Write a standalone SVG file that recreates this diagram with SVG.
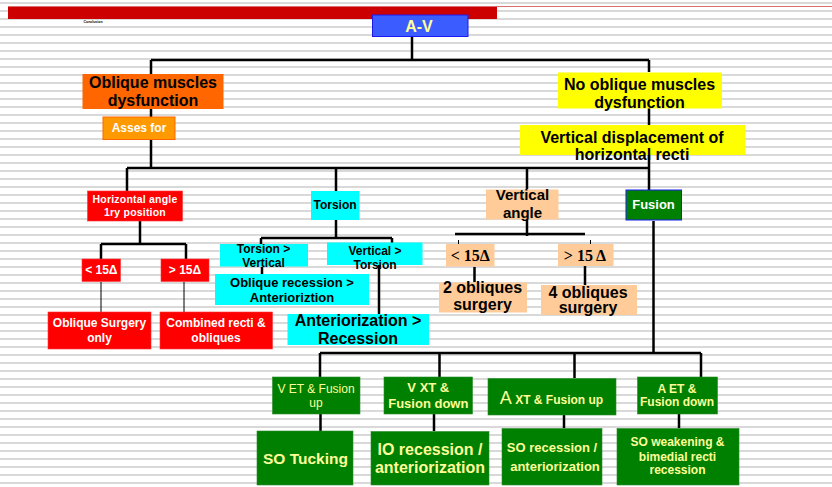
<svg xmlns="http://www.w3.org/2000/svg" width="832" height="487" viewBox="0 0 832 487">
<defs>
<pattern id="stripes" x="0" y="0" width="8" height="8" patternUnits="userSpaceOnUse">
<rect x="0" y="2" width="8" height="2" fill="#d9d9d9"/>
</pattern>
</defs>
<style>
text{font-family:"Liberation Sans",Arial,sans-serif;text-anchor:middle}
.b{font-weight:bold}
.blk{fill:#000}
.wht{fill:#fff}
.yel{fill:#ffff99}
.ser{font-family:"Liberation Serif","Times New Roman",serif;font-weight:bold}
.orange{fill:#ff6600}
.yellow{fill:#ffff00}
.red{fill:#ff0000;stroke:#ff3333;stroke-width:0.6}
.cyan{fill:#00ffff}
.peach{fill:#ffcc99}
.green{fill:#008000;stroke:#2a8a2a;stroke-width:0.6}
.c{stroke:#000;stroke-width:2.5;fill:none}
.t{stroke:#000;stroke-width:1;fill:none}
</style>
<rect width="832" height="487" fill="#fff"/>
<rect width="832" height="487" fill="url(#stripes)"/>
<line x1="8" y1="6.5" x2="832" y2="6.5" stroke="#e07070" stroke-width="1"/>
<rect x="8" y="7" width="489" height="12" fill="#cc0000"/>
<text x="93" y="23" style="font-size:3.5px" class="b blk">Conclusion</text>

<g id="connectors">
<path class="c" d="M412 37 V60 M151 60 H649 M151 60 V74 M649 60 V72"/>
<path class="c" d="M151 109 V117 M151 139 V168 M127 168 H649 M649 108 V125 M649 155 V190"/>
<path class="c" d="M127 168 V191 M336 168 V191 M527 168 V189"/>
<path class="c" d="M140 221 V244 M101 244 H186 M101 244 V259 M186 244 V259"/>
<path class="t" d="M101 282 V312 M184 282 V312"/>
<path class="c" d="M336 220 V238 M261 238 H392 M261 238 V244 M392 238 V243"/>
<path class="c" d="M262 267 V274 M379 265 V314"/>
<path class="c" d="M527 219 V236 M455 234 H585"/>
<path class="t" d="M458.5 240 V247 M590.5 240 V247"/>
<path class="c" d="M474.5 267 V282 M585 266 V285"/>
<path class="c" d="M653.5 221 V353 M320 353 H701 M320 353 V377 M439.5 353 V377 M574.5 353 V378 M701 353 V377"/>
<path class="c" d="M320.5 414 V431 M434 414 V431 M564 415 V428 M679 414 V428"/>
</g>

<g id="node-av">
<rect x="372.5" y="15" width="95.5" height="21.5" fill="#3b5cff" stroke="#1a1aee" stroke-width="1"/>
<text x="419" y="31.5" style="font-size:16px" class="b yel">A-V</text>
</g>

<g id="node-oblique">
<rect x="82.5" y="74" width="141" height="35" class="orange"/>
<text x="153" y="88" style="font-size:16px" class="b blk">Oblique muscles</text>
<text x="153" y="106" style="font-size:16px" class="b blk">dysfunction</text>
</g>

<g id="node-asses">
<rect x="103" y="117" width="72" height="22.5" fill="#ff9900" stroke="#ff6600" stroke-width="1"/>
<text x="139" y="131.5" style="font-size:12px" class="b wht">Asses for</text>
</g>

<g id="node-noblique">
<rect x="558" y="72.5" width="164" height="36" class="yellow"/>
<text x="639.5" y="90" style="font-size:16px" class="b blk">No oblique muscles</text>
<text x="639.5" y="108" style="font-size:16px" class="b blk">dysfunction</text>
</g>

<g id="node-vdisp">
<rect x="520" y="125" width="225" height="30" class="yellow"/>
<text x="632" y="142.5" style="font-size:16px" class="b blk">Vertical displacement of</text>
<text x="632" y="160" style="font-size:16px" class="b blk">horizontal recti</text>
</g>

<g id="node-horiz">
<rect x="87.5" y="191" width="95" height="30" class="red"/>
<text x="135" y="202.5" style="font-size:10.5px;letter-spacing:0.2px" class="b wht">Horizontal angle</text>
<text x="135" y="215.5" style="font-size:10.5px;letter-spacing:0.2px" class="b wht">1ry position</text>
</g>

<g id="node-h-lt15">
<rect x="82" y="259" width="38.5" height="22.5" class="red"/>
<text x="101.3" y="274" style="font-size:12px" class="b wht">&lt; 15Δ</text>
</g>
<g id="node-h-gt15">
<rect x="161" y="259" width="48" height="22.5" class="red"/>
<text x="185" y="274" style="font-size:12px" class="b wht">&gt; 15Δ</text>
</g>

<g id="node-obsurg">
<rect x="48" y="312" width="103" height="37" class="red"/>
<text x="99.5" y="327.3" style="font-size:12px" class="b wht">Oblique Surgery</text>
<text x="99.5" y="341.7" style="font-size:12px" class="b wht">only</text>
</g>
<g id="node-combined">
<rect x="160" y="312" width="112.5" height="37" class="red"/>
<text x="216" y="327.3" style="font-size:12px" class="b wht">Combined recti &amp;</text>
<text x="216" y="341.7" style="font-size:12px" class="b wht">obliques</text>
</g>

<g id="node-torsion">
<rect x="311" y="191" width="48.5" height="29" class="cyan"/>
<text x="335" y="209.3" style="font-size:12px" class="b blk">Torsion</text>
</g>
<g id="node-tgv">
<rect x="220" y="244" width="88" height="22.5" class="cyan"/>
<text x="263.5" y="253.3" style="font-size:12px" class="b blk">Torsion &gt;</text>
<text x="263.5" y="266.7" style="font-size:12px" class="b blk">Vertical</text>
</g>
<g id="node-vgt">
<rect x="327" y="242.5" width="95.5" height="22.5" class="cyan"/>
<text x="375" y="255" style="font-size:12px" class="b blk">Vertical &gt;</text>
<text x="375" y="269" style="font-size:12px" class="b blk">Torsion</text>
</g>
<g id="node-oblrec">
<rect x="215" y="274" width="154" height="31" class="cyan"/>
<text x="292" y="286.7" style="font-size:13px" class="b blk">Oblique recession &gt;</text>
<text x="292" y="302.3" style="font-size:13px" class="b blk">Anterioriztion</text>
</g>
<g id="node-antrec">
<rect x="287.5" y="314" width="141.5" height="31" class="cyan"/>
<text x="358" y="325.7" style="font-size:16px" class="b blk">Anteriorization &gt;</text>
<text x="358" y="344" style="font-size:16px" class="b blk">Recession</text>
</g>

<g id="node-vangle">
<rect x="486" y="189.5" width="72.5" height="30" class="peach"/>
<text x="522.5" y="200" style="font-size:15px" class="b blk">Vertical</text>
<text x="522.5" y="217.7" style="font-size:15px" class="b blk">angle</text>
</g>
<g id="node-v-lt15">
<rect x="446" y="244" width="48.5" height="22.5" class="peach"/>
<text x="470.3" y="260.7" style="font-size:16px" class="ser blk">&lt; 15Δ</text>
</g>
<g id="node-v-gt15">
<rect x="558" y="244" width="55.5" height="22" class="peach"/>
<text x="585" y="260.5" style="font-size:16px" class="ser blk">&gt; 15 Δ</text>
</g>
<g id="node-2obl">
<rect x="439" y="282.5" width="88" height="30" class="peach"/>
<text x="482.5" y="293.3" style="font-size:16px" class="b blk">2 obliques</text>
<text x="482.5" y="310" style="font-size:16px" class="b blk">surgery</text>
</g>
<g id="node-4obl">
<rect x="541" y="285" width="96" height="30" class="peach"/>
<text x="588" y="297.7" style="font-size:16px" class="b blk">4 obliques</text>
<text x="588" y="313.3" style="font-size:16px" class="b blk">surgery</text>
</g>

<g id="node-fusion">
<rect x="626" y="190" width="55.5" height="30" fill="#008000" stroke="#1a1aee" stroke-width="1"/>
<text x="653.5" y="209.3" style="font-size:13px" class="b wht">Fusion</text>
</g>

<g id="node-vet">
<rect x="272.5" y="377" width="87.5" height="37" class="green"/>
<text x="316" y="392.7" style="font-size:12px" class="yel">V ET &amp; Fusion</text>
<text x="316" y="406.7" style="font-size:12px" class="yel">up</text>
</g>
<g id="node-vxt">
<rect x="384" y="377" width="88.5" height="37" class="green"/>
<text x="428.3" y="392.3" style="font-size:13px" class="b yel">V XT &amp;</text>
<text x="428.3" y="408.3" style="font-size:13px" class="b yel">Fusion down</text>
</g>
<g id="node-axt">
<rect x="488" y="378.5" width="128" height="36.5" class="green"/>
<text x="551.5" y="404" class="yel"><tspan style="font-size:18px">A</tspan><tspan style="font-size:12px;font-weight:bold"> XT &amp; Fusion up</tspan></text>
</g>
<g id="node-aet">
<rect x="637.5" y="377" width="80" height="37" class="green"/>
<text x="677" y="392.7" style="font-size:12px" class="b yel">A ET &amp;</text>
<text x="677" y="406" style="font-size:12px" class="b yel">Fusion down</text>
</g>

<g id="node-sotuck">
<rect x="257" y="431" width="96" height="54" class="green"/>
<text x="305.5" y="464.3" style="font-size:15.5px" class="b yel">SO Tucking</text>
</g>
<g id="node-iorec">
<rect x="371" y="431.5" width="118" height="53.5" class="green"/>
<text x="430" y="455" style="font-size:16px" class="b yel">IO recession /</text>
<text x="430" y="473.3" style="font-size:16px" class="b yel">anteriorization</text>
</g>
<g id="node-sorec">
<rect x="502" y="428.5" width="100" height="56.5" class="green"/>
<text x="552" y="451.7" style="font-size:13px" class="b yel">SO recession /</text>
<text x="555" y="470.7" style="font-size:13px" class="b yel">anteriorization</text>
</g>
<g id="node-soweak">
<rect x="617" y="428.5" width="122" height="56.5" class="green"/>
<text x="677.5" y="446" style="font-size:12px" class="b yel">SO weakening &amp;</text>
<text x="677.5" y="460.7" style="font-size:12px" class="b yel">bimedial recti</text>
<text x="677.5" y="474.3" style="font-size:12px" class="b yel">recession</text>
</g>
</svg>
